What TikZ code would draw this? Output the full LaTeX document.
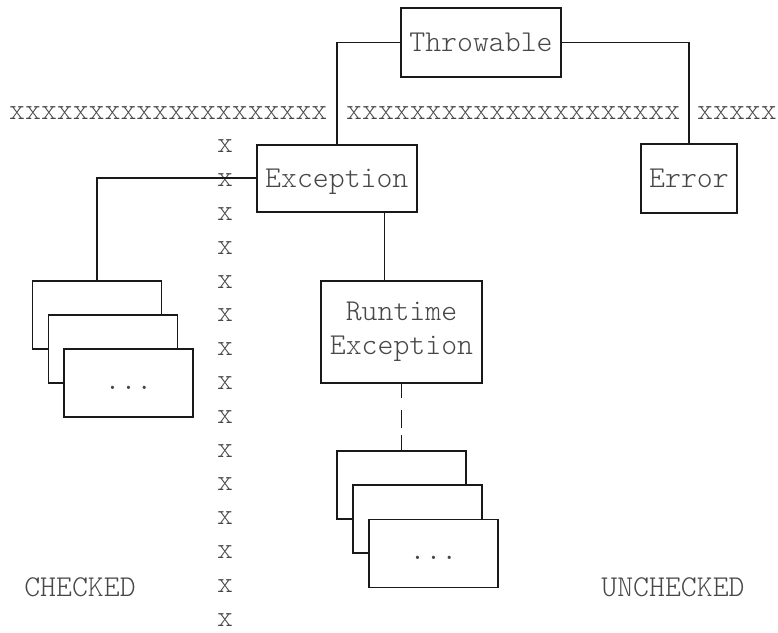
\documentclass[tikz,border=0pt]{standalone}
\usepackage{fontspec}
\setmonofont{Latin Modern Mono Light}
\begin{document}
\begin{tikzpicture}[x=1pt,y=-1pt,
  every node/.style={font=\ttfamily\fontsize{30.3}{34}\selectfont, text=black!72, inner sep=0pt},
  box/.style={draw=black!90, line width=1.9pt, fill=white, text height=20.5pt, text depth=2pt},
  card/.style={box, minimum width=129pt, minimum height=68pt, text height=12pt, text depth=0pt},
  wire/.style={draw=black!90, line width=1.9pt},
  caption/.style={text height=20.5pt, text depth=2pt}]
\useasboundingbox (0,0) rectangle (778,632);

% class boxes
\node[box, minimum width=160pt, minimum height=69pt] (thr) at (481,42.5) {Throwable};
\node[box, minimum width=160pt, minimum height=67pt] (exc) at (336.8,178.3) {Exception};
\node[box, minimum width=96pt, minimum height=69pt] (err) at (689,178.5) {Error};
\node[box, minimum width=161pt, minimum height=102pt, align=center,
      text height=, text depth=] (rex) at (401.5,332) {Runtime\\Exception};

% checked subclasses
\node[card] (c1) at (97,315) {};
\node[card] (c2) at (113,349) {};
\node[card] (c3) at (128.5,383) {...};

% unchecked subclasses
\node[card] (u1) at (401.5,485) {};
\node[card] (u2) at (417.5,519) {};
\node[card] (u3) at (433.5,553.5) {...};

% horizontal divider
\node[anchor=west] (row1) at (9,113) {xxxxxxxxxxxxxxxxxxxx};
\node[anchor=west] (row2) at (346,113) {xxxxxxxxxxxxxxxxxxxxx};
\node[anchor=west] (row3) at (697,113) {xxxxx};

% vertical divider
\foreach \i in {0,...,14}
  \node (xc\i) at (225,{146.5+33.8*\i}) {x};

% captions
\node[caption] (chk) at (80,587) {CHECKED};
\node[caption] (unchk) at (673,587) {UNCHECKED};

% connectors
\coordinate (k1) at (384.5,0);
\draw[wire] (thr.west) -| (exc.north);
\draw[wire] (thr.east) -| (err.north);
\draw[wire] (exc.west) -| (c1.north);
\draw[wire] (exc.south -| k1) -- (rex.north -| k1);
\draw[wire, dash pattern=on 14pt off 12pt on 18pt off 7pt on 17pt] (rex.south) -- (u1.north);
\end{tikzpicture}
\end{document}
